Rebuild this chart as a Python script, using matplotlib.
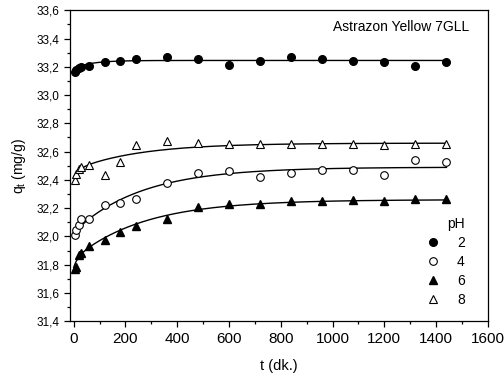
import matplotlib
matplotlib.use('Agg')
import matplotlib.pyplot as plt
from matplotlib.ticker import MultipleLocator, FuncFormatter
import numpy as np

plt.rcParams['font.family'] = ['Liberation Sans', 'DejaVu Sans']

# contact time (min)
t = [5, 10, 20, 30, 60, 120, 180, 240, 360, 480, 600, 720, 840, 960, 1080, 1200, 1320, 1440]

# q_t (mg/g) per pH
q_ph2 = [33.162, 33.174, 33.190, 33.202, 33.207, 33.237, 33.244, 33.254, 33.266, 33.254,
         33.216, 33.244, 33.267, 33.257, 33.244, 33.237, 33.207, 33.237]
q_ph4 = [32.008, 32.043, 32.078, 32.121, 32.121, 32.220, 32.239, 32.267, 32.380, 32.451,
         32.460, 32.420, 32.450, 32.467, 32.472, 32.437, 32.538, 32.526]
q_ph6 = [31.772, 31.784, 31.866, 31.883, 31.932, 31.977, 32.031, 32.074, 32.126, 32.208,
         32.232, 32.232, 32.248, 32.248, 32.255, 32.250, 32.262, 32.262]
q_ph8 = [32.401, 32.439, 32.474, 32.490, 32.502, 32.432, 32.526, 32.644, 32.674, 32.660,
         32.656, 32.656, 32.656, 32.656, 32.656, 32.644, 32.656, 32.656]

# fitted curve parameters (q0, A1, tau1, A2, tau2)
fit_ph2 = (33.160, 0.030, 10, 0.055, 70)
fit_ph4 = (32.000, 0.030, 15, 0.460, 260)
fit_ph6 = (31.780, 0.060, 15, 0.420, 270)
fit_ph8 = (32.420, 0.050, 20, 0.190, 250)


def model(tt, p):
    q0, a1, t1, a2, t2 = p
    return q0 + a1 * (1 - np.exp(-tt / t1)) + a2 * (1 - np.exp(-tt / t2))


fig = plt.figure(figsize=(5.04, 3.81), dpi=100)
ax = fig.add_axes([0.139, 0.157, 0.829, 0.816])

tf = np.linspace(0, 1440, 400)
for p in (fit_ph2, fit_ph4, fit_ph6, fit_ph8):
    ax.plot(tf, model(tf, p), color='black', lw=1.0, zorder=2)

ms = 5.5
ax.plot(t, q_ph2, 'o', ms=ms, mfc='black', mec='black', label='2', zorder=3)
ax.plot(t, q_ph4, 'o', ms=ms, mfc='white', mec='black', mew=0.8, label='4', zorder=3)
ax.plot(t, q_ph6, '^', ms=ms + 0.5, mfc='black', mec='black', label='6', zorder=3)
ax.plot(t, q_ph8, '^', ms=ms + 0.5, mfc='white', mec='black', mew=0.8, label='8', zorder=3)

ax.set_xlim(-14, 1600)
ax.set_ylim(31.4, 33.6)
ax.xaxis.set_major_locator(MultipleLocator(200))
ax.xaxis.set_minor_locator(MultipleLocator(100))
ax.yaxis.set_major_locator(MultipleLocator(0.2))
ax.yaxis.set_minor_locator(MultipleLocator(0.1))
ax.yaxis.set_major_formatter(FuncFormatter(lambda v, pos: f'{v:.1f}'.replace('.', ',')))

ax.tick_params(which='both', direction='out', top=False, right=False, width=0.9)
ax.tick_params(which='major', length=4)
ax.tick_params(which='minor', length=2.5)
ax.tick_params(axis='x', labelsize=11, pad=4)
ax.tick_params(axis='y', labelsize=8.5)
for s in ax.spines.values():
    s.set_linewidth(0.9)

ax.set_xlabel('t (dk.)', fontsize=10.5, labelpad=9)
ax.set_ylabel(r'q$_\mathregular{t}$ (mg/g)', fontsize=10, labelpad=6)

ax.text(0.955, 0.945, 'Astrazon Yellow 7GLL', transform=ax.transAxes,
        ha='right', va='center', fontsize=10)

leg = ax.legend(title='pH', loc='lower right', bbox_to_anchor=(0.965, 0.02),
                frameon=False, fontsize=10, title_fontsize=10,
                handletextpad=1.2, handlelength=1.0, labelspacing=0.35,
                borderaxespad=0.2)
leg._legend_box.align = 'right'

fig.savefig('out.png', dpi=100, facecolor='white')
plt.close()
